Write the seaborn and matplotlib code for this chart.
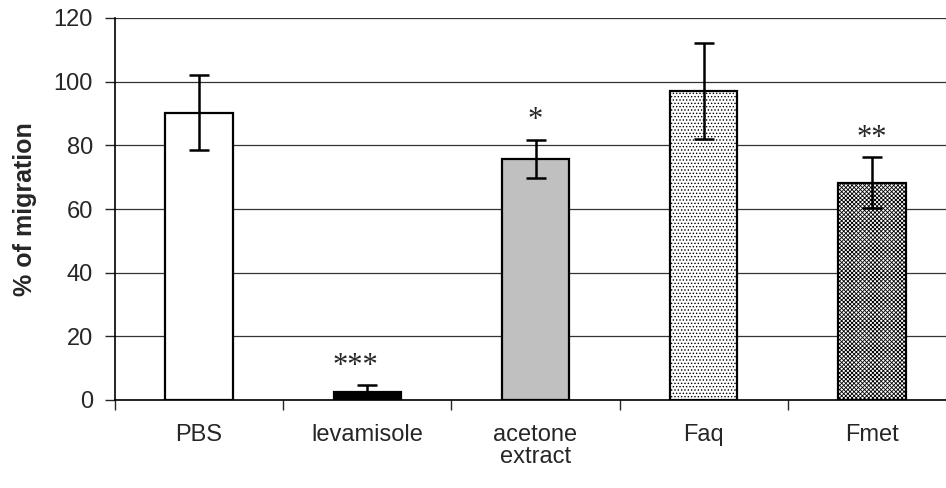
import seaborn as sns
import matplotlib.pyplot as plt
import pandas as pd

groups = ["PBS", "levamisole", "acetone\nextract", "Faq", "Fmet"]
migration = [90.3, 2.6, 75.8, 97.0, 68.3]
sd = [11.7, 2.0, 6.0, 15.0, 7.9]
stars = ["", "***", "*", "", "**"]

colors = ["white", "black", "#c0c0c0", "white", "white"]
hatches = ["", "", "", ".....", "xxxxxxxx"]

sns.set_style("white")
plt.rcParams["font.family"] = ["Liberation Sans", "DejaVu Sans"]
plt.rcParams["hatch.linewidth"] = 0.6

df = pd.DataFrame({"group": groups, "migration": migration})

fig = plt.figure(figsize=(9.46, 4.88), dpi=100)
ax = fig.add_axes([115 / 946, (488 - 400) / 488, 841 / 946, 382 / 488])

sns.barplot(data=df, x="group", y="migration", hue="group", palette=colors,
            width=0.4, edgecolor="black", linewidth=1.6, legend=False, ax=ax, zorder=3)
for patch, h in zip(ax.patches, hatches):
    patch.set_hatch(h)

ax.errorbar(range(len(groups)), migration, yerr=sd, fmt="none", ecolor="black",
            elinewidth=1.8, capsize=7, capthick=1.8, zorder=4)

# significance marks above the error bars
for i, s in enumerate(stars):
    if s:
        dx = -0.07 if len(s) == 3 else 0
        ax.text(i + dx, migration[i] + sd[i] + 6, s, ha="center", va="center",
                fontsize=22, family=["Liberation Serif", "DejaVu Serif"], zorder=5)

ax.set_ylim(0, 120)
ax.set_xlim(-0.5, 4.5)
ax.set_yticks(range(0, 121, 20))
ax.yaxis.grid(True, color="#333333", linewidth=0.9, zorder=0)
ax.set_axisbelow(True)
ax.tick_params(axis="y", direction="out", length=7, width=1, labelsize=17, pad=9, left=True)
ax.tick_params(axis="x", which="major", length=0, labelsize=17, pad=17)
ax.set_xticks([x + 0.5 for x in range(-1, 5)], minor=True)
ax.tick_params(axis="x", which="minor", direction="out", length=7, width=1, bottom=True)
for lbl in ax.get_xticklabels():
    lbl.set_linespacing(1.05)

ax.set_xlabel("")
ax.set_ylabel("% of migration", fontsize=18, fontweight="bold", labelpad=12)

for side in ["top", "right"]:
    ax.spines[side].set_visible(False)
for side in ["left", "bottom"]:
    ax.spines[side].set_color("black")
    ax.spines[side].set_linewidth(1.2)

plt.savefig("out.png", dpi=100)
